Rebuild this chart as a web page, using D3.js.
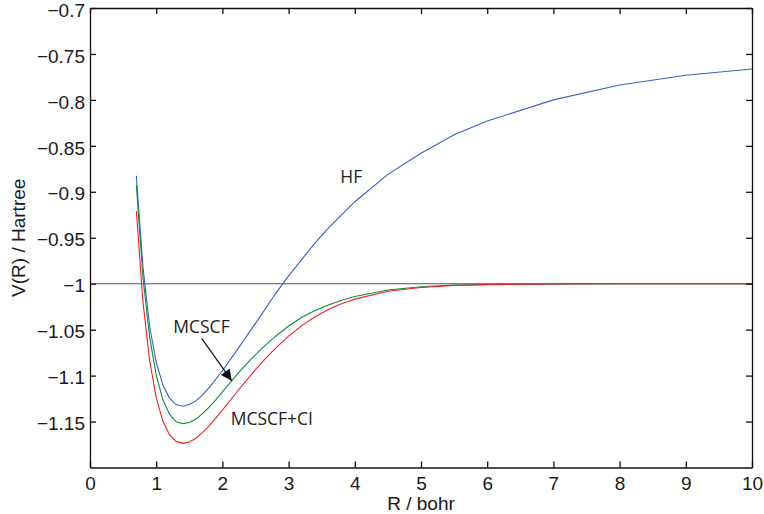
<!DOCTYPE html>
<html>
<head>
<meta charset="utf-8">
<script src="https://cdn.jsdelivr.net/npm/d3@7"></script>
<style>
    body { margin: 0; background: #fff; }
    svg text { font-family: "Liberation Sans", Arial, sans-serif; fill: #1a1a1a; }
    .axis text { font-size: 19px; }
    .axis path, .axis line { stroke: #111; stroke-width: 1.3; }
    .curve { fill: none; stroke-width: 1.1; }
    .hf { stroke: #3d5fc4; }
    .mcscf { stroke: #14893a; }
    .mcscfci { stroke: #ee2229; }
    .level { stroke: #555; stroke-width: 1.1; }
    .note { font-family: "Open Sans", sans-serif !important; font-size: 17.5px; fill: #222 !important; }
</style>
</head>
<body>
<div id="chart"></div>
<script>
// internuclear distance R (bohr)
const rValues = [0.7, 0.8, 0.9, 1.0, 1.1, 1.2, 1.3, 1.4, 1.5, 1.6, 1.7, 1.8, 1.9, 2.0,
    2.2, 2.4, 2.6, 2.8, 3.0, 3.2, 3.4, 3.6, 3.8, 4.0, 4.5, 5.0, 5.5, 6.0, 7.0, 8.0, 9.0, 10.0];

// V(R) in hartree
const hfEnergy = [-0.8825, -0.982, -1.046, -1.0855, -1.110, -1.1245, -1.1315, -1.1333, -1.1315, -1.1275,
    -1.1210, -1.1130, -1.1040, -1.0947, -1.0745, -1.0535, -1.0325, -1.0110, -0.9915, -0.9735,
    -0.9555, -0.9395, -0.9250, -0.9108, -0.881, -0.858, -0.838, -0.823, -0.800, -0.7838, -0.7732, -0.7664];

const mcscfEnergy = [-0.8926, -0.9932, -1.0576, -1.0995, -1.1260, -1.1419, -1.1503, -1.1522, -1.1511, -1.1473,
    -1.1414, -1.1343, -1.1263, -1.1178, -1.1006, -1.0846, -1.0700, -1.0574, -1.0460, -1.0366,
    -1.0292, -1.0231, -1.0180, -1.0140, -1.0068, -1.0033, -1.0016, -1.0008, -1.0003, -1.0001, -1.0000, -1.0000];

const mcscfCiEnergy = [-0.9210, -1.0200, -1.0832, -1.1240, -1.1495, -1.1643, -1.1716, -1.1737, -1.1722, -1.1682,
    -1.1620, -1.1546, -1.1463, -1.1375, -1.1195, -1.1019, -1.0853, -1.0703, -1.0570, -1.0456,
    -1.0360, -1.0281, -1.0218, -1.0168, -1.0082, -1.0041, -1.0020, -1.0010, -1.0003, -1.0001, -1.0000, -1.0000];

const xTicks = [0, 1, 2, 3, 4, 5, 6, 7, 8, 9, 10];
const yTicks = [-1.15, -1.1, -1.05, -1, -0.95, -0.9, -0.85, -0.8, -0.75, -0.7];
const referenceLevel = -1;

class PotentialChart {
    constructor(width, height, margin) {
        this.margin = margin || { top: 8, right: 12, bottom: 46.5, left: 90 };
        this.width = (width || 764) - this.margin.left - this.margin.right;
        this.height = (height || 514) - this.margin.top - this.margin.bottom;

        this.xScale = d3.scaleLinear().domain([0, 10]).range([0, this.width]);
        this.yScale = d3.scaleLinear().domain([-1.2, -0.7]).range([this.height, 0]);

        const self = this;
        this.line = function(values) {
            return d3.line()
                .x(function(d, i) { return self.xScale(rValues[i]); })
                .y(function(d) { return self.yScale(d); })(values);
        };
    }

    renderSvg(id) {
        const root = d3.select(id).append("svg")
            .attr("width", this.width + this.margin.left + this.margin.right)
            .attr("height", this.height + this.margin.top + this.margin.bottom);

        root.append("defs").append("marker")
            .attr("id", "head")
            .attr("viewBox", "0 0 10 10")
            .attr("refX", 10).attr("refY", 5)
            .attr("markerWidth", 11).attr("markerHeight", 11)
            .attr("markerUnits", "userSpaceOnUse")
            .attr("orient", "auto")
            .append("path")
            .attr("d", "M0,0L10,5L0,10z")
            .attr("fill", "#111");

        this.svg = root.append("g")
            .attr("transform", "translate(" + this.margin.left + "," + this.margin.top + ")");
    }

    renderAxes() {
        const fmt = d3.format("~g");

        this.svg.append("g")
            .attr("class", "x axis")
            .attr("transform", "translate(0," + this.height + ")")
            .call(d3.axisBottom(this.xScale).tickValues(xTicks).tickFormat(fmt)
                .tickSizeInner(-6).tickSizeOuter(0).tickPadding(9.5));

        this.svg.append("g")
            .attr("class", "y axis")
            .call(d3.axisLeft(this.yScale).tickValues(yTicks).tickFormat(fmt)
                .tickSizeInner(-6).tickSizeOuter(0).tickPadding(5))
            .selectAll("text")
            .attr("dy", "0.43em");

        this.svg.append("g")
            .attr("class", "axis")
            .call(d3.axisTop(this.xScale).tickValues(xTicks).tickFormat("")
                .tickSizeInner(-6).tickSizeOuter(0));

        this.svg.append("g")
            .attr("class", "axis")
            .attr("transform", "translate(" + this.width + ",0)")
            .call(d3.axisRight(this.yScale).tickValues(yTicks).tickFormat("")
                .tickSizeInner(-6).tickSizeOuter(0));
    }

    renderLabels() {
        this.svg.append("text")
            .attr("x", this.width / 2)
            .attr("y", this.height + 42.5)
            .style("text-anchor", "middle")
            .style("font-size", "19px")
            .text("R / bohr");

        this.svg.append("text")
            .attr("transform", "translate(-65," + (this.height / 2) + ")rotate(-90)")
            .style("text-anchor", "middle")
            .style("font-size", "19px")
            .text("V(R) / Hartree");
    }

    renderCurves() {
        this.svg.append("line")
            .attr("class", "level")
            .attr("x1", this.xScale(0)).attr("x2", this.xScale(10))
            .attr("y1", this.yScale(referenceLevel)).attr("y2", this.yScale(referenceLevel));

        this.svg.append("path").attr("class", "curve hf").attr("d", this.line(hfEnergy));
        this.svg.append("path").attr("class", "curve mcscf").attr("d", this.line(mcscfEnergy));
        this.svg.append("path").attr("class", "curve mcscfci").attr("d", this.line(mcscfCiEnergy));
    }

    renderNotes() {
        const x = this.xScale, y = this.yScale;
        this.svg.append("text").attr("class", "note")
            .attr("x", x(3.78)).attr("y", y(-0.8907)).text("HF");
        this.svg.append("text").attr("class", "note")
            .attr("x", x(1.258)).attr("y", y(-1.054)).text("MCSCF");
        this.svg.append("text").attr("class", "note")
            .attr("x", x(2.125)).attr("y", y(-1.1538)).text("MCSCF+CI");

        this.svg.append("line")
            .attr("x1", x(1.687)).attr("y1", y(-1.0594))
            .attr("x2", x(2.14)).attr("y2", y(-1.1055))
            .attr("stroke", "#111").attr("stroke-width", 1.2)
            .attr("marker-end", "url(#head)");
    }

    render(id) {
        this.renderSvg(id);
        this.renderCurves();
        this.renderAxes();
        this.renderLabels();
        this.renderNotes();
    }
}

const chart = new PotentialChart(764, 514);
chart.render("#chart");
</script>
</body>
</html>
